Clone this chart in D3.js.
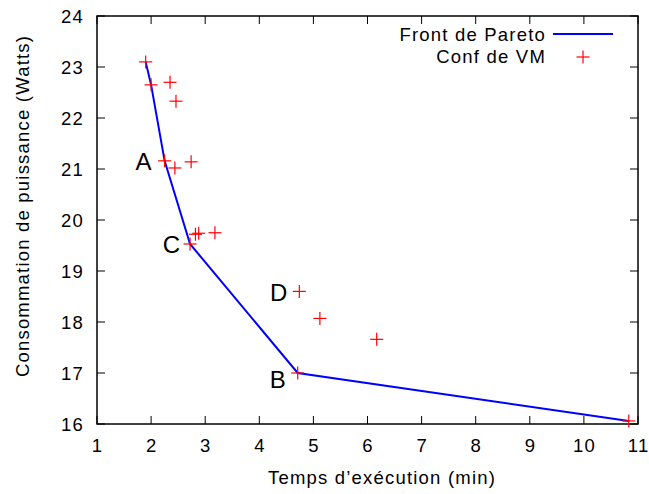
<!DOCTYPE html>
<html><head><meta charset="utf-8">
<script src="https://cdn.jsdelivr.net/npm/d3@7"></script>
<style>body{margin:0;background:#fff}svg{display:block}text{font-family:"Liberation Sans",Arial,Helvetica,sans-serif}</style>
</head><body><svg id="c" width="649" height="494"></svg>
<script>
const xTicks = [1,2,3,4,5,6,7,8,9,10,11];
const yTicks = [16,17,18,19,20,21,22,23,24];
const vmX = [1.9, 2.0, 2.35, 2.46, 2.25, 2.44, 2.74, 2.82, 2.88, 3.18, 2.72, 4.74, 5.12, 6.17, 4.71, 10.83];
const vmY = [23.1, 22.65, 22.7, 22.33, 21.16, 21.02, 21.14, 19.72, 19.74, 19.75, 19.53, 18.6, 18.07, 17.66, 17.0, 16.06];
const paretoX = [1.9, 2.0, 2.25, 2.72, 4.71, 10.83];
const paretoY = [23.1, 22.65, 21.16, 19.53, 17.0, 16.06];
const labelText = ["A","C","D","B"];
const labelX = [2.25, 2.72, 4.74, 4.71];
const labelY = [21.16, 19.53, 18.6, 17.0];
const legendNames = ["Front de Pareto","Conf de VM"];

const svg = d3.select("#c");
const L=97, R=638, T=16, B=424;
const x = d3.scaleLinear().domain([1,11]).range([L,R]);
const y = d3.scaleLinear().domain([16,24]).range([B,T]);
const fs = 18.5, ls = "1.2px";

svg.append("rect").attr("x",L).attr("y",T).attr("width",R-L).attr("height",B-T)
  .attr("fill","none").attr("stroke","#000").attr("stroke-width",1.5);

const tl = 8;
const g = svg.append("g").attr("stroke","#000").attr("stroke-width",1);
xTicks.forEach(v=>{
  g.append("line").attr("x1",x(v)).attr("x2",x(v)).attr("y1",B).attr("y2",B-tl);
  g.append("line").attr("x1",x(v)).attr("x2",x(v)).attr("y1",T).attr("y2",T+tl);
});
yTicks.forEach(v=>{
  g.append("line").attr("x1",L).attr("x2",L+tl).attr("y1",y(v)).attr("y2",y(v));
  g.append("line").attr("x1",R).attr("x2",R-tl).attr("y1",y(v)).attr("y2",y(v));
});
svg.append("g").selectAll("text").data(xTicks).join("text")
  .attr("x",d=>x(d)+0.6).attr("y",452).attr("text-anchor","middle").attr("font-size",fs)
  .attr("letter-spacing",ls).text(d=>d);
svg.append("g").selectAll("text").data(yTicks).join("text")
  .attr("x",L-13).attr("y",d=>y(d)+7).attr("text-anchor","end").attr("font-size",fs)
  .attr("letter-spacing",ls).text(d=>d);

svg.append("text").attr("x",382).attr("y",484).attr("text-anchor","middle").attr("font-size",fs)
  .attr("letter-spacing",ls).text("Temps d’exécution (min)");
svg.append("text").attr("transform",`translate(29,206) rotate(-90)`).attr("text-anchor","middle")
  .attr("font-size",fs).attr("letter-spacing",ls).text("Consommation de puissance (Watts)");

const line = d3.line().x(d=>x(d[0])).y(d=>y(d[1]));
svg.append("path").datum(paretoX.map((v,i)=>[v,paretoY[i]])).attr("d",line)
  .attr("fill","none").attr("stroke","#0000ff").attr("stroke-width",2);

const s=6.5;
const pts = svg.append("g").attr("stroke","#ff0000").attr("stroke-width",1.2);
vmX.forEach((v,i)=>{
  const px=x(v), py=y(vmY[i]);
  pts.append("line").attr("x1",px-s).attr("x2",px+s).attr("y1",py).attr("y2",py);
  pts.append("line").attr("x1",px).attr("x2",px).attr("y1",py-s).attr("y2",py+s);
});

const lo = [[-13,9],[-10,9],[-12,10],[-12,15]];
svg.append("g").selectAll("text").data(labelText).join("text")
  .attr("x",(d,i)=>x(labelX[i])+lo[i][0]).attr("y",(d,i)=>y(labelY[i])+lo[i][1])
  .attr("text-anchor","end").attr("font-size",24).text(d=>d);

svg.append("text").attr("x",546).attr("y",41).attr("text-anchor","end").attr("font-size",fs)
  .attr("letter-spacing",ls).text(legendNames[0]);
svg.append("line").attr("x1",553).attr("x2",613).attr("y1",34).attr("y2",34).attr("stroke","#0000ff").attr("stroke-width",2);
svg.append("text").attr("x",546).attr("y",63).attr("text-anchor","end").attr("font-size",fs)
  .attr("letter-spacing",ls).text(legendNames[1]);
pts.append("line").attr("x1",583-s).attr("x2",583+s).attr("y1",57).attr("y2",57);
pts.append("line").attr("x1",583).attr("x2",583).attr("y1",57-s).attr("y2",57+s);
</script></body></html>
